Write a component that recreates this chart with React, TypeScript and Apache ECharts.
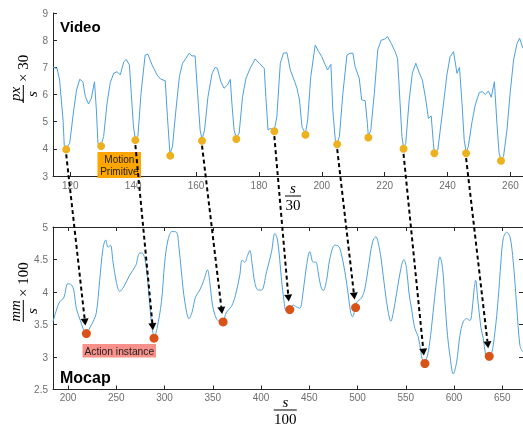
import React, { useEffect, useRef } from "react";
import * as echarts from "echarts";

// ---- Video (top) ----
const videoX = [114.5,115.8,116.6,117.7,118.1,118.7,119.8,121.1,122.0,123.0,124.0,124.8,125.8,126.7,127.7,128.3,128.8,129.8,130.6,131.7,132.7,133.8,134.9,135.9,137.0,137.8,138.8,139.4,140.1,140.7,141.5,142.5,143.8,144.7,146.0,147.6,148.8,150.2,150.9,151.7,152.5,153.6,154.7,155.7,156.8,157.8,158.7,159.7,160.5,161.3,161.9,162.7,163.8,165.1,166.1,166.8,167.9,168.9,170.0,170.9,171.4,172.1,172.8,173.7,174.8,175.9,177.2,178.8,180.1,181.7,182.2,182.9,183.6,184.9,185.7,186.8,187.8,188.9,190.0,191.2,192.1,192.9,193.7,194.8,195.5,196.5,197.9,199.0,200.0,201.1,201.8,202.9,203.5,204.3,204.9,205.6,206.7,208.0,209.0,209.9,210.6,211.9,212.7,213.8,214.5,214.8,215.6,216.7,217.8,218.9,219.9,220.9,222.1,223.3,224.1,224.9,225.5,226.0,226.7,227.8,228.8,229.9,231.0,232.0,233.1,233.9,234.8,235.5,235.8,236.9,238.2,239.8,240.8,241.9,243.0,243.8,244.6,245.3,245.9,246.6,247.7,248.8,250.1,251.1,252.0,253.0,253.9,254.9,255.7,256.4,257.0,257.8,258.9,259.9,261.0,262.1,262.9,264.0];
const videoY = [7.0,6.96,6.53,5.06,4.08,4.02,4.2,5.43,6.17,6.56,6.47,5.92,5.65,5.86,6.47,5.43,4.2,4.14,4.45,5.68,6.43,6.78,6.84,6.72,7.2,7.29,7.09,6.04,4.81,4.36,4.45,6.04,7.45,7.48,7.09,6.72,6.56,6.51,5.18,3.82,4.08,5.43,6.66,7.15,7.33,7.52,7.42,7.42,6.04,4.69,4.34,4.69,5.92,6.78,7.0,6.96,6.47,6.23,6.35,6.56,5.68,4.69,4.4,4.57,5.92,6.6,6.96,7.31,7.15,6.96,5.92,4.69,4.75,4.69,5.18,7.15,7.52,7.54,6.9,6.53,6.23,5.8,4.81,4.56,5.06,6.66,7.82,7.58,7.39,7.09,6.9,7.11,5.43,4.32,4.2,4.45,6.04,7.45,7.52,7.52,7.02,6.6,5.8,5.77,4.94,4.46,4.69,6.04,7.64,8.0,8.03,8.13,7.88,7.58,7.33,5.68,4.45,4.04,4.2,5.8,6.78,7.15,6.8,6.53,5.8,5.12,5.21,4.2,3.88,3.96,5.18,6.72,7.39,7.58,6.78,7.0,5.68,4.32,3.88,4.08,4.94,5.61,6.08,6.1,6.0,6.13,5.9,6.47,4.94,3.84,3.6,3.71,4.69,6.04,7.27,7.88,8.07,7.7];
const videoMinX = [118.7,129.8,140.7,151.8,161.9,172.8,184.9,194.8,204.9,214.8,226.0,235.8,245.9,257.0];
const videoMinY = [3.98,4.10,4.32,3.75,4.30,4.36,4.65,4.52,4.17,4.42,4.0,3.84,3.84,3.56];
const videoTicks = [120,140,160,180,200,220,240,260];
const videoYTicks = [3,4,5,6,7,8,9];

// ---- Mocap (bottom) ----
const mocapX = [184.4,187.9,191.3,195.5,199.9,203.5,205.9,208.7,212.8,215.5,217.3,219.5,222.5,225.9,229.4,232.8,236.2,239.0,241.4,243.9,246.6,250.1,253.6,257.7,263.9,270.2,274.3,277.7,281.2,284.7,287.1,289.5,292.2,296.8,300.2,303.6,307.8,312.4,314.7,317.5,321.0,325.4,328.5,332.1,336.5,340.7,344.5,346.9,349.7,353.8,357.3,360.7,364.2,369.4,373.5,378.0,380.4,383.2,386.0,388.4,390.7,393.5,397.0,400.5,405.7,410.9,414.3,417.1,421.2,423.9,426.4,429.8,433.3,436.8,440.2,443.6,447.2,450.6,454.0,456.8,459.2,461.7,464.4,467.9,471.3,476.5,479.9,482.7,486.9,490.3,492.8,494.9,496.5,499.6,504.2,507.6,511.0,515.6,519.0,522.4,524.9,528.3,531.8,534.6,536.9,540.5,544.9,548.0,550.8,553.2,556.0,559.4,562.9,565.7,567.0,569.5,572.6,575.7,579.1,582.6,585.4,588.2,590.6,593.3,595.7,599.2,602.7,606.1,609.5,613.1,616.5,618.2,620.9,622.4,624.5,627.9,630.3,632.8,634.8,636.5,639.0,642.4,645.8,648.6,651.0,654.5,658.0,661.4,664.9,668.3,671.1];
const mocapY = [3.54,3.72,3.85,3.91,4.13,4.11,4.03,3.74,3.56,3.44,3.38,3.37,3.45,3.54,3.69,4.18,4.67,4.8,4.69,4.72,4.46,4.15,4.01,4.08,4.26,4.41,4.6,4.59,4.36,3.8,3.44,3.32,3.44,3.85,4.46,4.8,4.93,4.92,4.72,4.31,3.85,3.59,3.69,3.92,4.03,4.18,4.34,4.15,3.8,3.59,3.55,3.56,3.69,3.78,3.95,4.26,4.49,4.46,4.56,4.64,4.44,4.15,4.03,4.03,4.31,4.62,4.9,4.8,4.2,3.85,3.7,3.7,3.8,3.77,3.75,4.0,4.41,4.62,4.46,4.46,4.31,4.1,4.02,4.18,4.51,4.72,4.71,4.62,4.31,3.97,3.69,3.62,3.68,3.85,3.91,4.05,4.36,4.77,4.85,4.69,4.46,4.05,3.69,3.55,3.67,3.98,4.36,4.5,4.36,4.0,3.74,3.44,3.31,3.08,2.97,2.94,3.03,3.33,3.8,4.26,4.54,4.36,3.85,3.33,3.03,2.74,2.92,3.33,3.54,3.59,3.56,3.64,4.05,4.18,3.91,3.45,3.29,3.03,2.97,2.99,3.05,3.38,3.9,4.46,4.82,4.92,4.85,4.46,3.8,3.18,3.08];
const mocapMinX = [219.0,289.1,360.7,429.8,498.0,569.8,636.5];
const mocapMinY = [3.36,3.29,3.54,3.73,3.76,2.90,3.01];
const mocapTicks = [200,250,300,350,400,450,500,550,600,650];

// arrows: video minimum index -> mocap minimum index
const arrowFrom = [0,2,4,6,8,10,12];
const arrowTo = [0,1,2,3,4,5,6];

const AXIS = "#262626";
const LABEL = { color: "#6e6e6e", fontSize: 10, fontFamily: "Liberation Sans" };
const SERIF = "Liberation Serif";

function fraction(num: string, den: string, denItalic: boolean, suffix: string, cx: number, cy: number, rotate: boolean, barLen: number) {
  const children: any[] = [
    { type: "text", x: 0, y: -1, style: { text: num, fontFamily: SERIF, fontStyle: "italic", fontSize: 15, fill: "#000", align: "center", verticalAlign: "bottom" } },
    { type: "line", shape: { x1: -barLen / 2, y1: 0, x2: barLen / 2, y2: 0 }, style: { stroke: "#000", lineWidth: 1 } },
    { type: "text", x: 0, y: 1, style: { text: den, fontFamily: SERIF, fontStyle: denItalic ? "italic" : "normal", fontSize: 15, fill: "#000", align: "center", verticalAlign: "top" } },
  ];
  if (suffix) {
    children.push({ type: "text", x: barLen / 2 + 3, y: 0, style: { text: suffix, fontFamily: SERIF, fontSize: 15, fill: "#000", align: "left", verticalAlign: "middle" } });
  }
  return { type: "group", x: cx, y: cy, rotation: rotate ? Math.PI / 2 : 0, children };
}

export default function App() {
  const ref = useRef<HTMLDivElement>(null);
  useEffect(() => {
    const chart = echarts.init(ref.current!, null, { renderer: "svg" });
    const tick = { show: true, inside: true, length: 4, lineStyle: { color: AXIS } };
    const line = { show: true, onZero: false, lineStyle: { color: AXIS, width: 1 } };
    chart.setOption({
      animation: false,
      grid: [
        { left: 53, top: 13, width: 470, height: 163 },
        { left: 53, top: 227, width: 471, height: 162.5 },
      ],
      xAxis: [
        { gridIndex: 0, type: "value", min: 114.5, max: 264, axisLine: line, axisTick: { ...tick, customValues: videoTicks }, axisLabel: { ...LABEL, margin: 4, customValues: videoTicks }, splitLine: { show: false } },
        { gridIndex: 1, type: "value", min: 184.4, max: 671.5, axisLine: line, axisTick: { ...tick, customValues: mocapTicks }, axisLabel: { ...LABEL, margin: 3, customValues: mocapTicks }, splitLine: { show: false } },
        { gridIndex: 1, type: "value", position: "top", min: 184.4, max: 671.5, axisLine: line, axisTick: { ...tick, customValues: mocapTicks }, axisLabel: { show: false }, splitLine: { show: false } },
      ],
      yAxis: [
        { gridIndex: 0, type: "value", min: 3, max: 9, interval: 1, axisLine: line, axisTick: tick, axisLabel: { ...LABEL, margin: 5 }, splitLine: { show: false } },
        { gridIndex: 1, type: "value", min: 2.5, max: 5, interval: 0.5, axisLine: line, axisTick: tick, axisLabel: { ...LABEL, margin: 5 }, splitLine: { show: false } },
        { gridIndex: 1, type: "value", position: "right", min: 2.5, max: 5, interval: 0.5, axisLine: line, axisTick: tick, axisLabel: { show: false }, splitLine: { show: false } },
      ],
      series: [
        { type: "line", xAxisIndex: 0, yAxisIndex: 0, data: videoX.map((x, i) => [x, videoY[i]]), showSymbol: false, lineStyle: { color: "#4f9fdb", width: 1 }, z: 2 },
        { type: "scatter", xAxisIndex: 0, yAxisIndex: 0, data: videoMinX.map((x, i) => [x, videoMinY[i]]), symbolSize: 8, itemStyle: { color: "#EDB120", opacity: 1 }, z: 4 },
        { type: "line", xAxisIndex: 1, yAxisIndex: 1, data: mocapX.map((x, i) => [x, mocapY[i]]), smooth: 0.35, showSymbol: false, lineStyle: { color: "#4f9fdb", width: 1 }, z: 2 },
        { type: "scatter", xAxisIndex: 1, yAxisIndex: 1, data: mocapMinX.map((x, i) => [x, mocapMinY[i]]), symbolSize: 9, itemStyle: { color: "#D95319", opacity: 1 }, z: 4 },
      ],
    });

    const arrows: any[] = [];
    arrowFrom.forEach((fi, k) => {
      const ti = arrowTo[k];
      const p0 = chart.convertToPixel({ xAxisIndex: 0, yAxisIndex: 0 } as any, [videoMinX[fi], videoMinY[fi]]) as number[];
      const p1 = chart.convertToPixel({ xAxisIndex: 1, yAxisIndex: 1 } as any, [mocapMinX[ti], mocapMinY[ti]]) as number[];
      const sx = p0[0], sy = p0[1] + 5;
      const tx = p1[0] - 1, ty = p1[1] - 8;
      const dx = tx - sx, dy = ty - sy;
      const L = Math.hypot(dx, dy);
      const ux = dx / L, uy = dy / L;
      const hl = 7, hw = 4;
      const bx = tx - ux * hl, by = ty - uy * hl;
      arrows.push({ type: "line", z: 10, shape: { x1: sx, y1: sy, x2: bx, y2: by }, style: { stroke: "#000", lineWidth: 2, lineDash: [4, 3] } });
      arrows.push({ type: "polygon", z: 10, shape: { points: [[tx, ty], [bx - uy * hw, by + ux * hw], [bx + uy * hw, by - ux * hw]] }, style: { fill: "#000" } });
    });

    chart.setOption({
      graphic: [
        { type: "text", x: 60, y: 26, z: 6, style: { text: "Video", fontFamily: "Liberation Sans", fontWeight: "bold", fontSize: 15, fill: "#000", verticalAlign: "middle" } },
        { type: "text", x: 60, y: 377, z: 6, style: { text: "Mocap", fontFamily: "Liberation Sans", fontWeight: "bold", fontSize: 16, fill: "#000", verticalAlign: "middle" } },
        { type: "rect", z: 5, shape: { x: 97.5, y: 152, width: 43.5, height: 26 }, style: { fill: "#FFA500" } },
        { type: "text", z: 6, x: 119.3, y: 159.5, style: { text: "Motion", fontFamily: "Liberation Sans", fontSize: 10, fill: "#222", align: "center", verticalAlign: "middle" } },
        { type: "text", z: 6, x: 119.3, y: 171.5, style: { text: "Primitive", fontFamily: "Liberation Sans", fontSize: 10, fill: "#222", align: "center", verticalAlign: "middle" } },
        { type: "rect", z: 5, shape: { x: 82.5, y: 344, width: 73.5, height: 13.5 }, style: { fill: "#F8918A" } },
        { type: "text", z: 6, x: 119.3, y: 351, style: { text: "Action instance", fontFamily: "Liberation Sans", fontSize: 10.3, fill: "#222", align: "center", verticalAlign: "middle" } },
        fraction("px", "s", true, "× 30", 23.3, 94, true, 18),
        fraction("mm", "s", true, "× 100", 23.3, 311, true, 22),
        fraction("s", "30", false, "", 293, 196, false, 16),
        fraction("s", "100", false, "", 285.3, 410, false, 23),
        ...arrows,
      ],
    });
    return () => chart.dispose();
  }, []);
  return <div ref={ref} style={{ position: "fixed", left: 0, top: 0, width: 523, height: 427 }} />;
}
